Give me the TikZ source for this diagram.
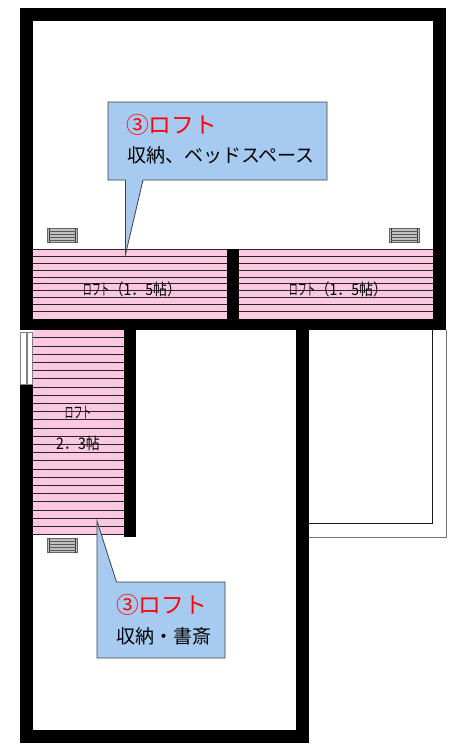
\documentclass[tikz,border=0pt]{standalone}
\usepackage{fontspec}
\usepackage{graphicx}
\usepackage{xcolor}
\setmainfont{Noto Sans CJK JP}
\definecolor{loftpink}{HTML}{FFC8E1}
\definecolor{notefill}{HTML}{A6CAF0}
\newcommand{\narrowloft}{\scalebox{0.64}[1]{ロフト}}
\newcommand{\narrowtext}[1]{\scalebox{0.875}[1]{#1}}
\tikzset{
     wall/.style={
           fill=black,
           draw=none,
           },
     loftarea/.style={
           fill=loftpink,
           draw=none,
           },
     loftline/.style={
           draw=black!85, line width=0.8pt,
           },
     note/.style={
           fill=notefill,
           draw=black!75, line width=0.8pt,
           },
     notehead/.style={
           text=red, font=\fontsize{22.7}{24}\selectfont,
           anchor=west, inner sep=0pt,
           },
     notebody/.style={
           text=black, font=\fontsize{19}{21}\selectfont,
           anchor=west, inner sep=0pt,
           },
     looplabel/.style={
           text=black, font=\fontsize{16}{18}\selectfont,
           inner sep=0pt,
           },
}

\begin{document}
\begin{tikzpicture}[x=1pt,y=-1pt]
	\useasboundingbox (0,0) rectangle (462,745);
	\fill[white] (0,0) rectangle (462,745);

	%balcony
	\draw[black!55, line width=0.8pt] (309,537) -- (446,537) -- (446,330);
	\draw[black!90, line width=0.8pt] (309,523.5) -- (432.5,523.5) -- (432.5,330);

	%loft floors
	\fill[loftarea] (33,249) rectangle (227,319);
	\fill[loftarea] (239,249) rectangle (433,319);
	\fill[loftarea] (33,330) rectangle (124,535);
	\foreach \k in {0,...,9} {
		\draw[loftline] (33,249.3+6.9*\k) -- (227,249.3+6.9*\k);
		\draw[loftline] (239,249.3+6.9*\k) -- (433,249.3+6.9*\k);
	}
	\foreach \k in {0,...,24} {
		\draw[loftline] (33,337.7+8.2*\k) -- (124,337.7+8.2*\k);
	}

	%walls
	\fill[wall] (20,8) rectangle (446,21);
	\fill[wall] (20,8) rectangle (33,330);
	\fill[wall] (433,8) rectangle (446,330);
	\fill[wall] (20,319) rectangle (446,330);
	\fill[wall] (227,249) rectangle (239,319);
	\fill[wall] (20,385) rectangle (33,743);
	\fill[wall] (20,730) rectangle (309,743);
	\fill[wall] (296,330) rectangle (309,743);
	\fill[wall] (124,330) rectangle (136,537);

	%window
	\draw[black!50, line width=0.6pt, fill=white] (20.5,332.5) rectangle (26.5,384.5);
	\draw[black!50, line width=0.6pt, fill=white] (27,332.5) rectangle (32.5,384.5);

	%vents
	\foreach \vx/\vy in {47/228, 389/228, 47/538} {
		\draw[black!60, line width=0.7pt, fill=black!25] (\vx,\vy) rectangle (\vx+30.5,\vy+14.5);
		\draw[black!80, line width=0.7pt] (\vx+2,\vy) -- (\vx+2,\vy+14.5)
			(\vx+28.5,\vy) -- (\vx+28.5,\vy+14.5);
		\foreach \k in {3,6,9,12} {
			\draw[black!65, line width=0.7pt] (\vx+2,\vy+\k) -- (\vx+28.5,\vy+\k);
		}
	}

	%notes
	\draw[note] (108,102) -- (327,102) -- (327,180) -- (143,180) -- (125.5,254.5)
		-- (125.5,180) -- (108,180) -- cycle;
	\draw[note] (97,521) -- (116.5,582) -- (225,582) -- (225,658) -- (97,658) -- cycle;

	\node[notehead] (head1) at (126,124.5) {③ロフト};
	\node[notebody] (body1) at (127,155) {収納、ベッドスペース};
	\node[notehead] (head2) at (116,605) {③ロフト};
	\node[notebody] (body2) at (116,636) {収納・書斎};

	%labels
	\node[looplabel] (left1) at (132,289) {\narrowtext{\narrowloft（1．5帖）}};
	\node[looplabel] (right1) at (338,289) {\narrowtext{\narrowloft（1．5帖）}};
	\node[looplabel] (left2) at (78,412.5) {\narrowtext{\narrowloft}};
	\node[looplabel] (left3) at (78,443) {\narrowtext{2．3帖}};
\end{tikzpicture}
\end{document}
